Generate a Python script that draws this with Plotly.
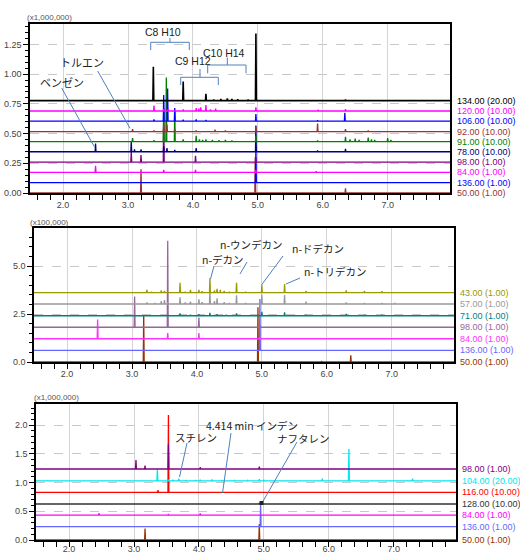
import plotly.graph_objects as go

# ---------------- DATA ----------------
X_RANGE = [1.49, 7.96]

# Panel 1 (x1,000,000)
P1_LABELS = ["134.00 (20.00)", "120.00 (10.00)", "106.00 (10.00)", "92.00 (10.00)", "91.00 (10.00)",
             "78.00 (10.00)", "98.00 (1.00)", "84.00 (1.00)", "136.00 (1.00)", "50.00 (1.00)"]
P1_OFFSETS = [0.777, 0.690, 0.604, 0.517, 0.432, 0.347, 0.260, 0.174, 0.087, 0.0]
P1_RT = [
    [3.39, 3.85, 4.20, 4.32, 4.43, 4.53, 4.60, 4.69, 4.85, 4.97, 5.50, 5.95, 6.35],
    [3.40, 3.55, 3.62, 3.85, 4.05, 4.09, 4.12, 4.20, 4.27, 4.35, 4.97, 5.93, 6.35],
    [3.40, 3.55, 3.61, 3.72, 3.85, 4.05, 4.20, 4.97, 5.92, 6.34],
    [3.07, 3.40, 3.55, 3.60, 3.72, 4.05, 4.34, 4.50, 4.97, 5.92, 6.35, 6.70],
    [3.07, 3.40, 3.55, 3.59, 3.72, 3.85, 4.05, 4.10, 4.15, 4.20, 4.30, 4.40, 4.50, 4.60, 4.97,
     5.92, 6.35, 6.42, 6.50, 6.56, 6.70, 6.75, 6.80, 7.00, 7.05],
    [2.50, 3.05, 3.10, 3.20, 3.55, 3.60, 3.72, 4.05, 4.97, 5.92, 6.35],
    [3.05, 3.20, 3.55, 4.04, 4.97],
    [2.50, 3.55, 4.04, 4.97, 5.90],
    [4.97],
    [3.20, 4.96, 5.92, 6.35],
]
P1_H = [
    [0.285, 0.16, 0.058, 0.010, 0.015, 0.020, 0.015, 0.012, 0.008, 0.565, 0.005, 0.006, 0.008],
    [0.045, 0.015, 0.020, 0.012, 0.025, 0.020, 0.030, 0.050, 0.012, 0.020, 0.030, 0.010, 0.015],
    [0.015, 0.22, 0.275, 0.11, 0.012, 0.015, 0.010, 0.06, 0.008, 0.07],
    [0.020, 0.008, 0.05, 0.06, 0.02, 0.010, 0.015, 0.008, 0.04, 0.067, 0.02, 0.008],
    [0.030, 0.012, 0.27, 0.54, 0.26, 0.020, 0.05, 0.020, 0.015, 0.020, 0.015, 0.012, 0.015, 0.010, 0.05,
     0.010, 0.04, 0.020, 0.025, 0.015, 0.035, 0.020, 0.015, 0.030, 0.015],
    [0.07, 0.085, 0.02, 0.02, 0.045, 0.03, 0.015, 0.03, 0.22, 0.010, 0.025],
    [0.088, 0.06, 0.45, 0.054, 0.04],
    [0.055, 0.02, 0.02, 0.02, 0.008],
    [0.30],
    [0.20, 0.30, 0.005, 0.04],
]

# Panel 2 (x100,000)
P2_LABELS = ["43.00 (1.00)", "57.00 (1.00)", "71.00 (1.00)", "98.00 (1.00)", "84.00 (1.00)",
             "136.00 (1.00)", "50.00 (1.00)"]
P2_OFFSETS = [3.61, 3.02, 2.41, 1.81, 1.21, 0.61, 0.0]
P2_RT = [
    [3.23, 3.30, 3.45, 3.50, 3.74, 3.82, 3.90, 4.03, 4.08, 4.20, 4.27, 4.31, 4.36, 4.42, 4.50, 4.61,
     4.75, 5.00, 5.35, 5.68, 6.00, 6.30, 6.58, 6.85],
    [3.23, 3.35, 3.45, 3.50, 3.55, 3.74, 3.82, 3.90, 4.03, 4.08, 4.20, 4.27, 4.31, 4.42, 4.50, 4.61,
     4.75, 5.00, 5.35, 5.68, 6.30, 6.58, 6.85, 7.05, 7.35],
    [3.74, 3.90, 4.03, 4.20, 4.31, 4.45, 4.61, 5.00, 5.35, 5.68, 6.30, 6.58, 6.85],
    [3.04, 3.55, 4.03, 4.97],
    [2.47, 3.55, 4.03, 4.97],
    [4.97],
    [3.18, 4.94, 5.92, 6.37],
]
P2_H = [
    [0.15, 0.05, 0.12, 0.10, 0.52, 0.05, 0.15, 0.15, 0.08, 0.75, 0.12, 0.20, 0.15, 0.10, 0.05, 0.52,
     0.05, 0.40, 0.45, 0.10, 0.03, 0.12, 0.10, 0.08],
    [0.08, 0.05, 0.15, 0.20, 0.10, 0.35, 0.08, 0.12, 0.25, 0.10, 0.73, 0.15, 0.30, 0.10, 0.05, 0.45,
     0.05, 0.50, 0.47, 0.12, 0.08, 0.06, 0.06, 0.04, 0.03],
    [0.12, 0.05, 0.08, 0.15, 0.08, 0.05, 0.12, 0.20, 0.18, 0.05, 0.10, 0.05, 0.04],
    [1.60, 4.50, 0.50, 0.10],
    [1.00, 0.30, 0.30, 0.10],
    [2.67],
    [2.41, 2.85, 0.05, 0.35],
]

# Panel 3 (x1,000,000)
P3_LABELS = ["98.00 (1.00)", "104.00 (20.00)", "116.00 (10.00)", "128.00 (10.00)", "84.00 (1.00)",
             "136.00 (1.00)", "50.00 (1.00)"]
P3_OFFSETS = [1.237, 1.03, 0.83, 0.627, 0.432, 0.232, 0.0]
P3_RT = [
    [3.03, 3.17, 3.53, 4.02, 4.93],
    [3.36, 3.53, 3.60, 3.69, 3.80, 3.95, 4.02, 4.20, 4.35, 4.55, 4.75, 4.93, 5.00, 5.90, 6.31, 7.29],
    [3.37, 3.53],
    [3.80, 4.93],
    [2.46, 3.53, 4.02],
    [4.95],
    [3.17, 4.93, 6.33],
]
P3_H = [
    [0.155, 0.06, 0.43, 0.03, 0.04],
    [0.20, 0.02, 0.02, 0.04, 0.015, 0.015, 0.02, 0.025, 0.015, 0.01, 0.01, 0.03, 0.02, 0.04, 0.555, 0.04],
    [0.04, 1.35],
    [0.01, 0.015],
    [0.035, 0.02, 0.03],
    [0.41],
    [0.20, 0.28, 0.01],
]

# ---------------- STYLE ----------------
P1_COLORS = ["#000000", "#FF00FF", "#0000FF", "#993333", "#008000", "#000080", "#800080", "#FF00FF", "#0000FF", "#993333"]
P2_COLORS = ["#999900", "#999999", "#008080", "#996699", "#FF33FF", "#6666FF", "#993300"]
P3_COLORS = ["#800080", "#00E5EE", "#FF0000", "#333333", "#FF00FF", "#6666FF", "#993300"]

W, H = 520, 553
FONT = "Liberation Sans, Arial, sans-serif"
JFONT = "Noto Sans CJK JP, sans-serif"
CALL = "#4F81BD"


def px(x):
    return x / W


def py(y):
    return 1 - y / H


def spikes(rts, hs, base, w=0.007):
    xs, ys = [X_RANGE[0]], [base]
    for rt, h in sorted(zip(rts, hs)):
        xs += [rt - w, rt, rt + w]
        ys += [base, base + h, base]
    xs.append(X_RANGE[1])
    ys.append(base)
    return xs, ys


fig = go.Figure()
annotations = []
shapes = []

panels = [
    (P1_LABELS, P1_OFFSETS, P1_RT, P1_H, P1_COLORS, "x", "y", 455),
    (P2_LABELS, P2_OFFSETS, P2_RT, P2_H, P2_COLORS, "x2", "y2", 458),
    (P3_LABELS, P3_OFFSETS, P3_RT, P3_H, P3_COLORS, "x3", "y3", 460),
]

for labels, offs, rts, hs, cols, xa, ya, lx in panels:
    n = len(labels)
    for i in reversed(range(n)):
        xs, ys = spikes(rts[i], hs[i], offs[i])
        fig.add_trace(go.Scatter(x=xs, y=ys, mode="lines", xaxis=xa, yaxis=ya,
                                 line=dict(color=cols[i], width=1.6 if i == 0 and xa == "x" else 1.3),
                                 hoverinfo="skip", showlegend=False))
        annotations.append(dict(x=px(lx), xref="paper", y=offs[i], yref=ya, text=labels[i],
                                showarrow=False, xanchor="left", yanchor="middle",
                                font=dict(family=FONT, size=9, color=cols[i])))

# axis setup
domains = [
    ([px(30), px(450)], [py(193), py(24)], [0, 1.422], 0.25, 0.05, ".2f", -3),
    ([px(34), px(454)], [py(362), py(228)], [0, 6.98], 2.5, 0.5, ".1f", -3),
    ([px(36), px(456)], [py(540), py(404)], [0, 2.37], 0.5, 0.1, ".1f", -6),
]
layout_axes = {}
for k, (xd, yd, yr, ydt, ymin, yfmt, stand) in enumerate(domains):
    sx = "" if k == 0 else str(k + 1)
    layout_axes["xaxis" + sx] = dict(
        domain=xd, range=X_RANGE, anchor="y" + sx, dtick=1, tick0=0, tickformat=".1f",
        ticks="outside", ticklen=5, tickwidth=1.2, tickcolor="#000", automargin=False,
        ticklabelstandoff=stand,
        showline=True, linecolor="#000", linewidth=1.5, mirror=True,
        showgrid=True, gridcolor="#d4d4d4", gridwidth=1,
        minor=dict(dtick=0.2, ticks="outside", ticklen=5, tickwidth=1.2, tickcolor="#000", showgrid=False),
        tickfont=dict(family=FONT, size=9, color="#444"), zeroline=False, fixedrange=True)
    layout_axes["yaxis" + sx] = dict(
        domain=yd, range=yr, anchor="x" + sx, dtick=ydt, tick0=0, tickformat=yfmt,
        ticks="outside", ticklen=5, tickwidth=1.2, tickcolor="#000", automargin=False,
        showline=True, linecolor="#000", linewidth=1.5, mirror=True,
        showgrid=True, gridcolor="#c8c8c8", griddash="dash", gridwidth=1,
        minor=dict(dtick=ymin, ticks="outside", ticklen=3, tickwidth=1, tickcolor="#000", showgrid=False),
        tickfont=dict(family=FONT, size=9, color="#444"), zeroline=False, fixedrange=True)

# scale labels
for txt, x, y in [("(x1,000,000)", 25, 17), ("(x100,000)", 28, 222), ("(x1,000,000)", 32, 397)]:
    annotations.append(dict(x=px(x), y=py(y), xref="paper", yref="paper", text=txt, showarrow=False,
                            xanchor="left", yanchor="middle", font=dict(family=FONT, size=8, color="#555")))


def seg(x0, y0, x1, y1):
    shapes.append(dict(type="line", xref="paper", yref="paper", x0=px(x0), y0=py(y0), x1=px(x1), y1=py(y1),
                       line=dict(color=CALL, width=1)))


def label(txt, x, y, anchor="center", size=11, fam=JFONT):
    annotations.append(dict(x=px(x), y=py(y), xref="paper", yref="paper", text=txt, showarrow=False,
                            xanchor=anchor, yanchor="middle", font=dict(family=fam, size=size, color="#222")))


def bracket(x0, x1, y, ylow, xc, ytop):
    seg(x0, y, x1, y)
    seg(x0, y, x0, ylow)
    seg(x1, y, x1, ylow)
    seg(xc, y, xc, ytop)


# Panel 1 callouts
label("ベンゼン", 62, 82)
seg(61.7, 88, 94.3, 146.7)
label("トルエン", 82, 62)
seg(97.7, 71, 130, 128.3)
label("C8 H10", 163, 32, size=10.5, fam=FONT)
bracket(150.7, 189.3, 42.3, 50, 170, 38)
label("C9 H12", 193, 61, size=10.5, fam=FONT)
bracket(180.7, 218.3, 77.3, 85, 200, 69)
label("C10 H14", 223.5, 53, size=10.5, fam=FONT)
bracket(207.7, 246, 65, 73.3, 227.3, 57.5)

# Panel 2 callouts
label("n-デカン", 200, 259, anchor="left", size=10.5)
seg(214, 266, 210.5, 279)
label("n-ウンデカン", 218, 244, anchor="left", size=10.5)
seg(247, 262, 240, 274)
label("n-ドデカン", 290, 249, anchor="left", size=10.5)
seg(283, 256, 261.5, 285)
label("n-トリデカン", 302, 271.5, anchor="left", size=10.5)
seg(300, 278, 286, 284)

# Panel 3 callouts
label("スチレン", 173, 437, anchor="left", size=10.5)
seg(187, 443, 179.5, 477)
label("4.414 min インデン", 204, 425, anchor="left", size=10.5)
seg(231, 433, 222.5, 493)
label("ナフタレン", 275, 438, anchor="left", size=10.5)
seg(297, 442, 262, 503)
shapes.append(dict(type="rect", xref="paper", yref="paper", x0=px(259.5), x1=px(263.5), y0=py(505), y1=py(501),
                   fillcolor="#222", line=dict(width=0)))

fig.update_layout(width=W, height=H, margin=dict(l=0, r=0, t=0, b=0, autoexpand=False),
                  paper_bgcolor="white", plot_bgcolor="white",
                  annotations=annotations, shapes=shapes, showlegend=False, **layout_axes)

fig.write_html("out.html", config={"displayModeBar": False},
               post_script="document.body.style.margin='0';document.body.style.padding='0';"
                           "document.documentElement.style.overflow='hidden';")
